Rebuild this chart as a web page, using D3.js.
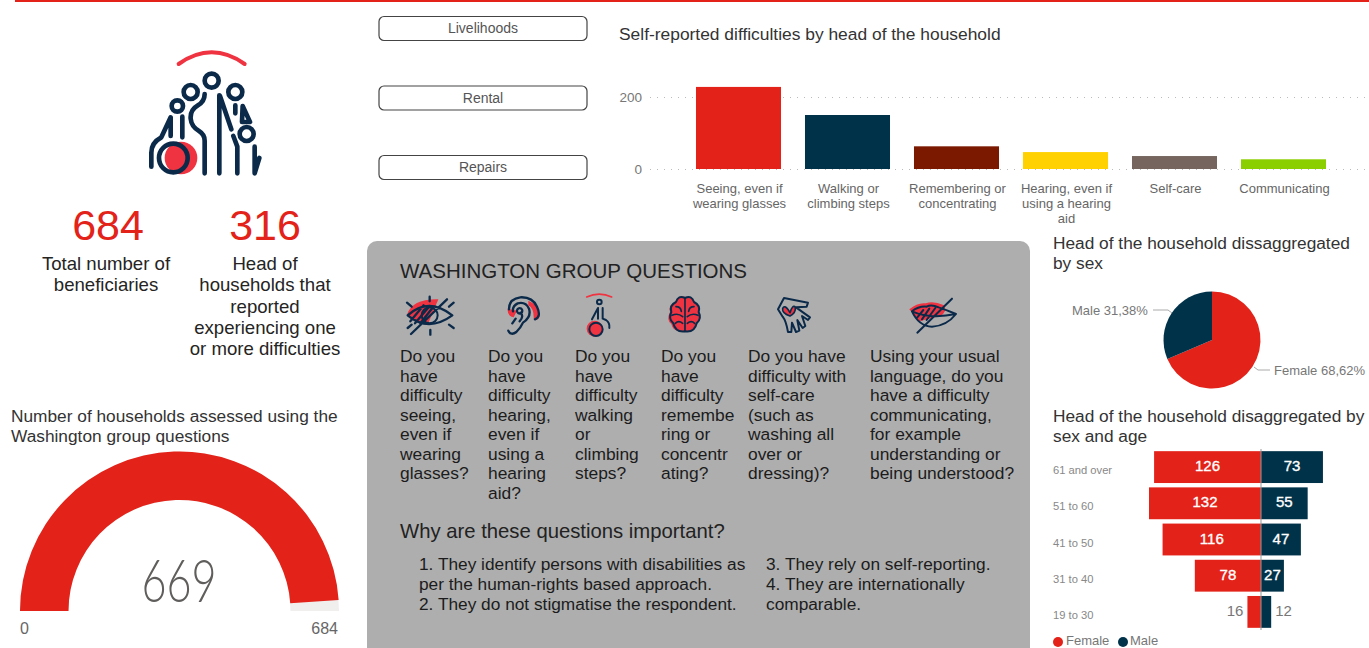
<!DOCTYPE html>
<html>
<head>
<meta charset="utf-8">
<script src="https://cdn.jsdelivr.net/npm/d3@7"></script>
<style>
  html, body { margin: 0; padding: 0; background: #fff; overflow: hidden; }
  svg { display: block; }
  text { font-family: "Liberation Sans", Arial, sans-serif; }
  .ink { fill: none; stroke: #0b2a4a; stroke-linecap: round; stroke-linejoin: round; }
  .hot { fill: #ef3340; stroke: none; }
</style>
</head>
<body>
<svg id="chart" width="1369" height="648"></svg>
<script>
// difficulties bar chart
var difficultyLabels = [
  ["Seeing, even if", "wearing glasses"],
  ["Walking or", "climbing steps"],
  ["Remembering or", "concentrating"],
  ["Hearing, even if", "using a hearing", "aid"],
  ["Self-care"],
  ["Communicating"]
];
var difficultyValues = [228, 150, 63, 47, 36, 27];
var difficultyColors = ["#e32219", "#003249", "#7a1800", "#ffd100", "#75655e", "#8ccf00"];
var difficultyTicks = [0, 200];

// gauge
var gaugeValue = 669;
var gaugeMax = 684;

// pie
var pieLabels = ["Female", "Male"];
var pieValues = [68.62, 31.38];

// funnel
var ageGroups = ["61 and over", "51 to 60", "41 to 50", "31 to 40", "19 to 30"];
var femaleCounts = [126, 132, 116, 78, 16];
var maleCounts = [73, 55, 47, 27, 12];

var buttonLabels = ["Livelihoods", "Rental", "Repairs"];

var questionColumns = [
  ["Do you", "have", "difficulty", "seeing,", "even if", "wearing", "glasses?"],
  ["Do you", "have", "difficulty", "hearing,", "even if", "using a", "hearing", "aid?"],
  ["Do you", "have", "difficulty", "walking", "or", "climbing", "steps?"],
  ["Do you", "have", "difficulty", "remembe", "ring or", "concentr", "ating?"],
  ["Do you have", "difficulty with", "self-care", "(such as", "washing all", "over or", "dressing)?"],
  ["Using your usual", "language, do you", "have a difficulty", "communicating,", "for example", "understanding or", "being understood?"]
];
var questionX = [400, 488, 575, 661, 748, 870];

var RED = "#e32219", NAVY = "#003249";
var svg = d3.select("#chart");

function lines(parent, arr, x, y, lh, size, color, anchor) {
  parent.append("g").selectAll("text").data(arr).enter().append("text")
    .attr("x", x)
    .attr("y", function(d, i) { return y + i * lh; })
    .attr("font-size", size)
    .attr("fill", color)
    .attr("text-anchor", anchor || "start")
    .text(function(d) { return d; });
}

// top rule
svg.append("rect").attr("x", 15).attr("y", 0).attr("width", 1354).attr("height", 2).attr("fill", RED);

// ---- left column
svg.append("text").attr("x", 108).attr("y", 240).attr("text-anchor", "middle").attr("font-size", 43).attr("fill", RED).text("684");
svg.append("text").attr("x", 265).attr("y", 240).attr("text-anchor", "middle").attr("font-size", 43).attr("fill", RED).text("316");
lines(svg, ["Total number of", "beneficiaries"], 106, 270, 21, 18.6, "#252423", "middle");
lines(svg, ["Head of", "households that", "reported", "experiencing one", "or more difficulties"], 265, 270, 21.3, 18.6, "#252423", "middle");
lines(svg, ["Number of households assessed using the", "Washington group questions"], 11, 422, 20, 17.3, "#333", "start");

// gauge
var gaugeCx = 179.5, gaugeCy = 611;
var gaugeAngle = d3.scaleLinear().domain([0, gaugeMax]).range([-Math.PI / 2, Math.PI / 2]);
var gaugeArc = d3.arc().innerRadius(111).outerRadius(159.5);
var gaugeG = svg.append("g").attr("transform", "translate(" + gaugeCx + "," + gaugeCy + ")");
gaugeG.append("path").attr("fill", "#f0efee")
  .attr("d", gaugeArc({startAngle: gaugeAngle(0), endAngle: gaugeAngle(gaugeMax)}));
gaugeG.append("path").attr("fill", RED)
  .attr("d", gaugeArc({startAngle: gaugeAngle(0), endAngle: gaugeAngle(gaugeValue)}));
svg.append("text").attr("transform", "translate(179,602) scale(0.72,1)").attr("text-anchor", "middle")
  .attr("font-size", 60).attr("fill", "#605e5c").style("font-family", "Lato").style("font-weight", 300).text(gaugeValue);
svg.append("text").attr("x", 20).attr("y", 634).attr("font-size", 16).attr("fill", "#666").text("0");
svg.append("text").attr("x", 338).attr("y", 634).attr("text-anchor", "end").attr("font-size", 16).attr("fill", "#666").text(gaugeMax);

// family icon, drawn in a 3x grid
var fam = svg.append("g").attr("transform", "translate(120,30) scale(0.3333)");
fam.append("path").attr("class", "ink").style("stroke", "#ef3340").attr("stroke-width", 12).attr("d", "M176,102 Q275,32 374,102");
fam.append("circle").attr("class", "hot").attr("cx", 183).attr("cy", 384).attr("r", 49);
[[275, 152, 21], [212, 186, 21], [346, 186, 21], [172, 228, 17], [380, 312, 21]].forEach(function(c) {
  fam.append("circle").attr("class", "ink").attr("stroke-width", 14).attr("cx", c[0]).attr("cy", c[1]).attr("r", c[2]);
});
fam.append("circle").attr("class", "ink").attr("stroke-width", 14).attr("cx", 160).attr("cy", 384).attr("r", 43);
fam.append("path").attr("class", "ink").attr("stroke-width", 14).attr("d",
  "M94,410 V368 Q94,338 124,322 L152,262 V318 M187,260 V322" +
  "M254,192 Q254,214 234,226 Q210,240 212,266 Q214,290 238,304 Q254,314 254,332 V430" +
  "M298,196 V430 M300,198 L334,298 M346,226 V250 M368,228 L390,276 H366 Z" +
  "M340,318 L352,350 V430 M404,350 V430 L418,384");

// ---- buttons
var buttons = svg.append("g").selectAll("g").data(buttonLabels).enter().append("g")
  .attr("transform", function(d, i) { return "translate(379," + [16.5, 86, 155.5][i] + ")"; });
buttons.append("rect").attr("width", 208).attr("height", 24).attr("rx", 5).attr("fill", "#fff").attr("stroke", "#444").attr("stroke-width", 1.2);
buttons.append("text").attr("x", 104).attr("y", 16.5).attr("text-anchor", "middle").attr("font-size", 14).attr("fill", "#555").text(function(d) { return d; });

// ---- difficulties bars
svg.append("text").attr("x", 619).attr("y", 40).attr("font-size", 17.4).attr("fill", "#333").text("Self-reported difficulties by head of the household");
var barY = d3.scaleLinear().domain([0, 200]).range([169, 97]);
var barX = d3.scaleBand().domain(d3.range(difficultyValues.length)).range([684, 1338]).paddingInner(0.22).paddingOuter(0.11);

var yAxis = svg.append("g").attr("transform", "translate(650,0)")
  .call(d3.axisLeft(barY).tickValues(difficultyTicks).tickSize(-719).tickPadding(8));
yAxis.select(".domain").remove();
yAxis.selectAll("line").attr("stroke", "#bbb").attr("stroke-dasharray", "1 6");
yAxis.selectAll("text").attr("font-size", 13.5).attr("fill", "#777").style("font-family", "Liberation Sans");

svg.append("g").selectAll("rect").data(difficultyValues).enter().append("rect")
  .attr("x", function(d, i) { return barX(i); })
  .attr("y", function(d) { return barY(d); })
  .attr("width", barX.bandwidth())
  .attr("height", function(d) { return barY(0) - barY(d); })
  .attr("fill", function(d, i) { return difficultyColors[i]; });

difficultyLabels.forEach(function(l, i) {
  lines(svg, l, barX(i) + barX.bandwidth() / 2 + 1, 193, 15, 13, "#666", "middle");
});

// ---- grey panel
svg.append("rect").attr("x", 367).attr("y", 241).attr("width", 663).attr("height", 420).attr("rx", 10).attr("fill", "#aeaeae");
svg.append("text").attr("x", 400).attr("y", 278).attr("font-size", 20.5).attr("fill", "#222").text("WASHINGTON GROUP QUESTIONS");
questionColumns.forEach(function(col, i) {
  lines(svg, col, questionX[i], 362, 19.55, 17.4, "#1c1c1c", "start");
});
svg.append("text").attr("x", 400).attr("y", 538).attr("font-size", 20.3).attr("fill", "#222").text("Why are these questions important?");
lines(svg, ["1. They identify persons with disabilities as", "per the human-rights based approach.", "2. They do not stigmatise the respondent."], 419, 570, 19.8, 17.3, "#1c1c1c");
lines(svg, ["3. They rely on self-reporting.", "4. They are internationally", "comparable."], 766, 570, 19.8, 17.3, "#1c1c1c");

// panel icons
var eye = svg.append("g").attr("transform", "translate(395,292) scale(0.3333)");
eye.append("path").attr("class", "hot").attr("d", "M36,68 Q52,20 130,22 L98,98 Q58,96 36,68 Z");
eye.append("path").attr("class", "ink").attr("stroke-width", 7).attr("d",
  "M38,70 Q100,14 172,70 Q100,122 38,70 Z M48,126 L156,22 M104,14 V28 M106,114 V128 M36,32 L50,44 M176,32 L162,44 M38,108 L50,98 M176,108 L162,98" +
  "M46,88 L86,40 M60,94 L104,42 M76,94 L114,46");
eye.append("circle").attr("class", "ink").attr("stroke-width", 6).attr("cx", 104).attr("cy", 70).attr("r", 24);

var ear = svg.append("g").attr("transform", "translate(395,292) scale(0.3333)");
ear.append("path").attr("class", "hot").attr("d", "M400,26 Q436,40 434,72 Q432,86 416,82 Q418,50 400,40 Z M338,50 Q336,72 356,76 L366,56 Z");
ear.append("path").attr("class", "ink").attr("stroke-width", 7).attr("d",
  "M342,52 Q342,20 376,16 Q412,14 426,44 Q440,74 420,82 M340,116 Q348,132 364,120 Q378,106 384,92 Q410,74 402,50 Q392,28 368,34 Q352,42 354,58 M366,56 A8,8 0 1 1 366,57 M376,62 Q388,72 374,88 M352,94 L362,80");

var wheel = svg.append("g").attr("transform", "translate(570,292) scale(0.3333)");
wheel.append("path").attr("class", "ink").style("stroke", "#ef3340").attr("stroke-width", 5).attr("d", "M50,15 Q88,-2 125,15");
wheel.append("circle").attr("class", "hot").attr("cx", 74).attr("cy", 110).attr("r", 24);
wheel.append("circle").attr("class", "ink").attr("stroke-width", 6).attr("cx", 78).attr("cy", 112).attr("r", 20);
wheel.append("circle").attr("class", "ink").attr("stroke-width", 6).attr("cx", 88).attr("cy", 30).attr("r", 7);
wheel.append("path").attr("class", "ink").attr("stroke-width", 6).attr("d", "M66,82 L84,48 V80 M98,48 V80 L108,84 Q120,92 118,108");

var brain = svg.append("g").attr("transform", "translate(570,292) scale(0.3333)");
brain.append("path").attr("class", "hot").attr("d", "M346,14 Q320,10 316,30 Q294,38 300,60 Q288,84 304,96 Q310,124 344,116 Z");
brain.append("path").attr("fill", "#ef3340").attr("stroke", "#0b2a4a").attr("stroke-width", 6).attr("stroke-linejoin", "round").attr("d",
  "M345,18 Q325,8 318,30 Q298,40 304,60 Q294,80 310,94 Q316,122 345,118 Q374,122 380,94 Q396,80 386,60 Q392,40 372,30 Q365,8 345,18 Z");
brain.append("path").attr("class", "ink").attr("stroke-width", 5).attr("d",
  "M345,18 V118 M318,44 Q332,44 334,58 M372,44 Q358,44 356,58 M306,70 Q324,62 338,74 M384,70 Q366,62 352,74 M316,94 Q326,84 338,94 M374,94 Q364,84 352,94");

var hand = svg.append("g").attr("transform", "translate(760,292) scale(0.3333)");
hand.append("path").attr("class", "hot").attr("d", "M90,60 Q72,32 70,52 Q68,68 90,70 Q110,66 106,44 Q100,36 90,60 Z");
hand.append("path").attr("class", "ink").attr("stroke-width", 6).attr("d",
  "M72,18 L144,32 L140,44 L108,46 L150,76 L144,84 L126,72 L136,102 L128,108 L112,84 L118,116 L108,120 L96,92 L94,120 L84,120 Q78,86 68,74 L54,52 Z");
hand.append("path").attr("class", "ink").attr("stroke-width", 5).attr("d", "M90,62 Q74,34 68,50 Q66,64 90,72 Q108,62 106,46 Q98,36 90,62 Z");

var lips = svg.append("g").attr("transform", "translate(760,292) scale(0.3333)");
lips.append("path").attr("class", "hot").attr("d", "M448,52 Q474,30 498,34 Q520,26 552,40 Q564,60 540,72 L478,88 Z");
lips.append("path").attr("class", "ink").attr("stroke-width", 6).attr("d",
  "M456,58 Q476,42 500,44 Q514,36 536,46 Q560,54 588,66 Q560,102 516,104 Q476,102 456,58 Z M456,58 Q510,82 588,66 M472,122 L576,20" +
  "M472,76 L490,54 M486,82 L508,50 M500,84 L526,48");

// ---- right column, pie
lines(svg, ["Head of the household dissaggregated", "by sex"], 1053, 249, 19.5, 17.3, "#333");
lines(svg, ["Head of the household disaggregated by", "sex and age"], 1053, 422, 19.5, 17.3, "#333");

var pie = d3.pie().sort(null)(pieValues);
var pieArc = d3.arc().innerRadius(0).outerRadius(48.5);
var pieColor = d3.scaleOrdinal().domain(pieLabels).range([RED, NAVY]);
svg.append("g").attr("transform", "translate(1212,340)")
  .selectAll("path").data(pie).enter().append("path")
  .attr("d", pieArc)
  .attr("fill", function(d, i) { return pieColor(pieLabels[i]); });
svg.append("path").attr("fill", "none").attr("stroke", "#aaa").attr("d", "M1153,310 H1168 L1172,313 M1254,367 L1258,370 H1270");
svg.append("text").attr("x", 1072).attr("y", 315).attr("font-size", 13).attr("fill", "#777").text(pieLabels[1] + " 31,38%");
svg.append("text").attr("x", 1274).attr("y", 375).attr("font-size", 13).attr("fill", "#777").text(pieLabels[0] + " 68,62%");

// ---- funnel
var funnelY = d3.scaleBand().domain(ageGroups).range([449, 630]).paddingInner(0.12).paddingOuter(0.06);
var funnelW = d3.scaleLinear().domain([0, 132]).range([0, 112]);
var funnelX0 = 1261;
var rows = svg.append("g").selectAll("g").data(ageGroups).enter().append("g");
rows.append("rect")
  .attr("x", function(d, i) { return funnelX0 - funnelW(femaleCounts[i]); })
  .attr("y", function(d) { return funnelY(d); })
  .attr("width", function(d, i) { return funnelW(femaleCounts[i]); })
  .attr("height", funnelY.bandwidth())
  .attr("fill", RED);
rows.append("rect")
  .attr("x", funnelX0)
  .attr("y", function(d) { return funnelY(d); })
  .attr("width", function(d, i) { return funnelW(maleCounts[i]); })
  .attr("height", funnelY.bandwidth())
  .attr("fill", NAVY);
svg.append("line").attr("x1", funnelX0).attr("x2", funnelX0).attr("y1", 449).attr("y2", 630).attr("stroke", "#999");
rows.append("text")
  .attr("x", 1053)
  .attr("y", function(d) { return funnelY(d) + funnelY.bandwidth() / 2 + 7; })
  .attr("font-size", 11.2).attr("fill", "#888")
  .text(function(d) { return d; });
rows.append("text")
  .attr("x", function(d, i) {
    var w = funnelW(femaleCounts[i]);
    return w > 40 ? funnelX0 - w / 2 : funnelX0 - w - 4;
  })
  .attr("y", function(d) { return funnelY(d) + funnelY.bandwidth() / 2 + 4; })
  .attr("text-anchor", function(d, i) { return funnelW(femaleCounts[i]) > 40 ? "middle" : "end"; })
  .attr("font-size", 15)
  .attr("stroke", function(d, i) { return funnelW(femaleCounts[i]) > 40 ? "#fff" : "none"; })
  .attr("stroke-width", 0.35)
  .attr("fill", function(d, i) { return funnelW(femaleCounts[i]) > 40 ? "#fff" : "#777"; })
  .text(function(d, i) { return femaleCounts[i]; });
rows.append("text")
  .attr("x", function(d, i) {
    var w = funnelW(maleCounts[i]);
    return w > 20 ? funnelX0 + w / 2 : funnelX0 + w + 4;
  })
  .attr("y", function(d) { return funnelY(d) + funnelY.bandwidth() / 2 + 4; })
  .attr("text-anchor", function(d, i) { return funnelW(maleCounts[i]) > 20 ? "middle" : "start"; })
  .attr("font-size", 15)
  .attr("stroke", function(d, i) { return funnelW(maleCounts[i]) > 20 ? "#fff" : "none"; })
  .attr("stroke-width", 0.35)
  .attr("fill", function(d, i) { return funnelW(maleCounts[i]) > 20 ? "#fff" : "#777"; })
  .text(function(d, i) { return maleCounts[i]; });

// legend
svg.append("circle").attr("cx", 1058).attr("cy", 642).attr("r", 5).attr("fill", RED);
svg.append("text").attr("x", 1066).attr("y", 645).attr("font-size", 13).attr("fill", "#777").text("Female");
svg.append("circle").attr("cx", 1123).attr("cy", 642).attr("r", 5).attr("fill", NAVY);
svg.append("text").attr("x", 1130).attr("y", 645).attr("font-size", 13).attr("fill", "#777").text("Male");
</script>
</body>
</html>
